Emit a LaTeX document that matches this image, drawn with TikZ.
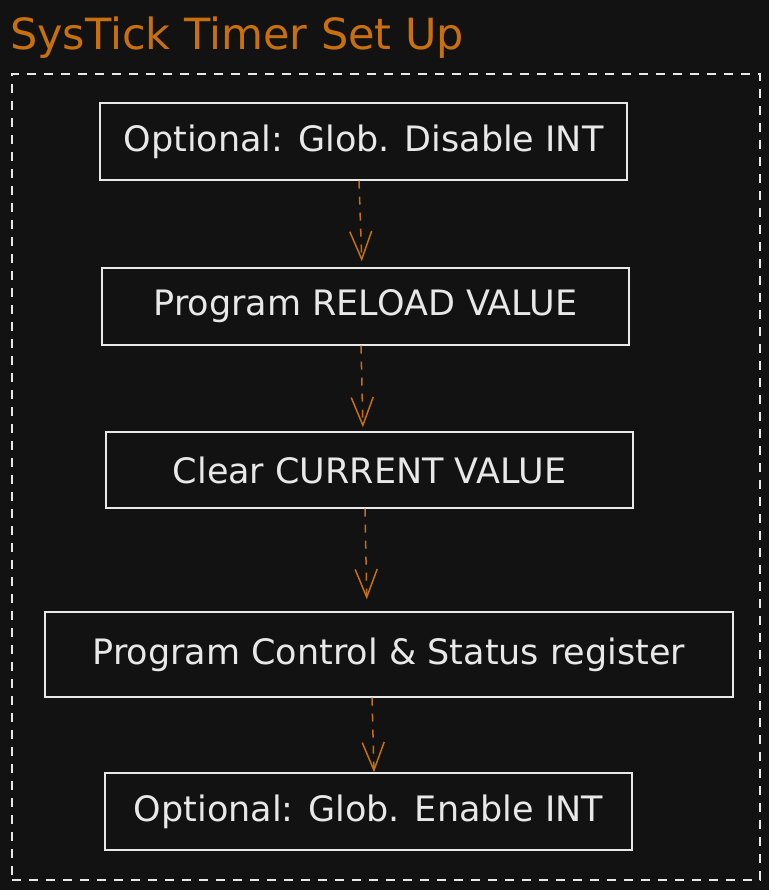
\documentclass[tikz,border=0pt]{standalone}
\usepackage{fontspec}
\setmainfont{DejaVu Sans}
\usepackage{xcolor}
\usetikzlibrary{arrows.meta,positioning}
\definecolor{bg}{HTML}{121212}
\definecolor{ink}{HTML}{E8E8E8}
\definecolor{amber}{HTML}{C8700E}

\begin{document}
\begin{tikzpicture}[x=1pt,y=-1pt,
  box/.style={draw=ink, line width=1.4pt, text=ink, minimum width=527pt, minimum height=77pt,
              inner sep=0pt, font=\fontsize{35}{40}\selectfont},
  flow/.style={draw=amber, line width=1.5pt, dash pattern=on 8pt off 8pt,
               -{Straight Barb[length=28pt,width=22pt,line width=1.5pt]}}]
  \fill[bg] (0,0) rectangle (769,890);
  \useasboundingbox (0,0) rectangle (769,890);

  \node[anchor=base west, text=amber, inner sep=0pt, font=\fontsize{43}{48}\selectfont] (title) at (10,50) {SysTick Timer Set Up};
  \node[draw=ink, line width=1.4pt, dash pattern=on 9pt off 8pt, minimum width=748pt, minimum height=806pt, inner sep=0pt] (frame) at (386,477) {};

  \node[box] (dis) at (363.5,141.5) {Optional: Glob. Disable INT};
  \node[box] (reload) at (365.5,306.5) {Program RELOAD VALUE};
  \node[box, minimum height=76pt] (clr) at (369.5,470) {Clear CURRENT VALUE};
  \node[box, minimum width=688pt, minimum height=85pt] (ctrl) at (389,654.5) {Program Control \& Status register};
  \node[box] (en) at (368.5,811.5) {Optional: Glob. Enable INT};

  \draw[flow, shorten >=6pt] ([xshift=-4.5pt]dis.south) -- ([xshift=-3.5pt]reload.north);
  \draw[flow, shorten >=4pt] ([xshift=-4.5pt]reload.south) -- ([xshift=-6.5pt]clr.north);
  \draw[flow, shorten >=12pt] ([xshift=-4.5pt]clr.south) -- ([xshift=-22pt]ctrl.north);
  \draw[flow] ([xshift=-17pt]ctrl.south) -- ([xshift=5.5pt]en.north);
\end{tikzpicture}
\end{document}
